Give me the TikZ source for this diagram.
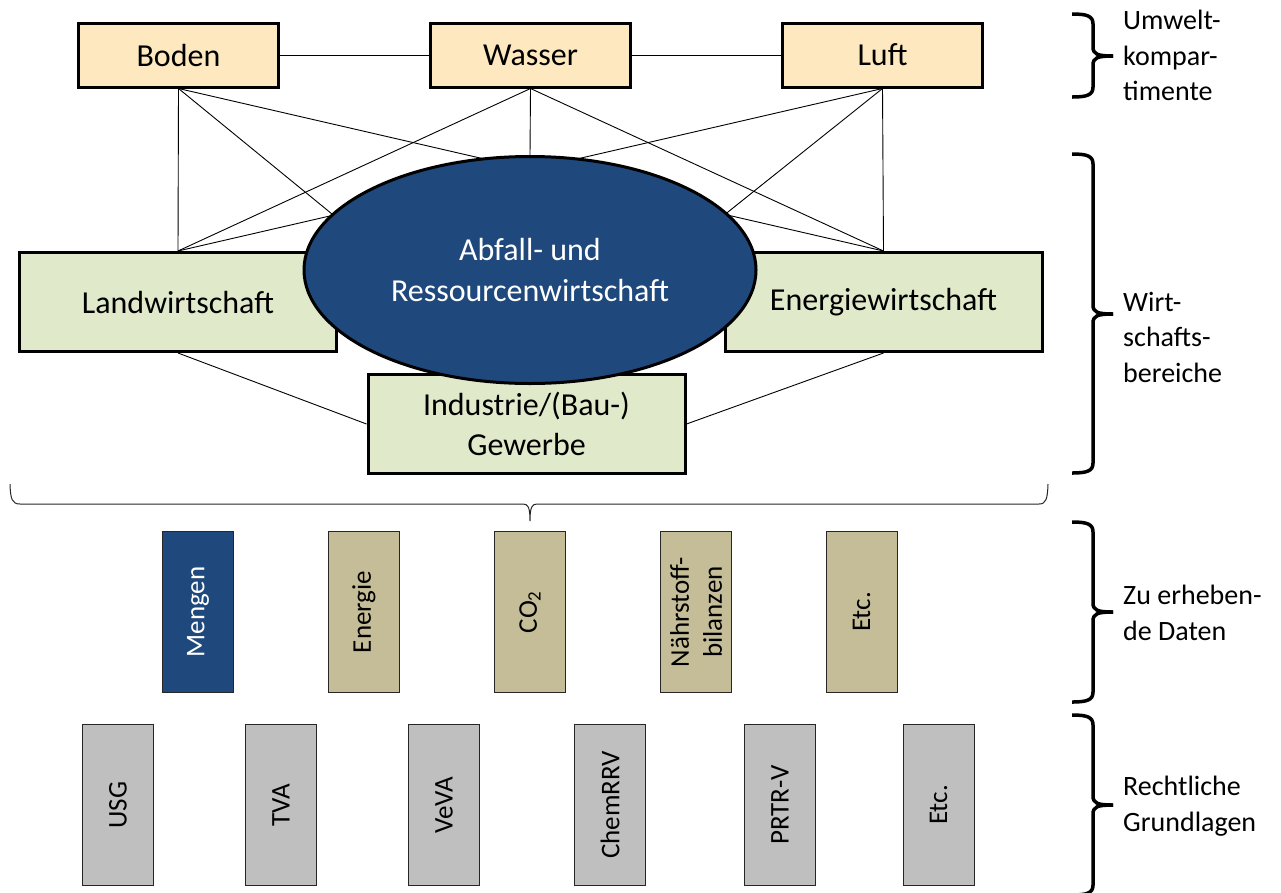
\documentclass[tikz,border=0pt]{standalone}
\usepackage{fontspec}
\setmainfont{Carlito}
\usetikzlibrary{shapes.geometric,backgrounds}
\definecolor{peach}{HTML}{FDE8BF}
\definecolor{lgreen}{HTML}{E0E9CA}
\definecolor{dblue}{HTML}{1F497D}
\definecolor{tan}{HTML}{C4BD97}
\definecolor{lgrey}{HTML}{BFBFBF}
\tikzset{
  mainfont/.style={font=\fontsize{32}{40}\selectfont},
  topbox/.style={draw, line width=3pt, fill=peach, minimum width=200pt, minimum height=64pt, inner sep=0pt, mainfont},
  greenbox/.style={draw, line width=3pt, fill=lgreen, minimum width=317pt, minimum height=99pt, inner sep=0pt, align=center, mainfont},
  bigellipse/.style={ellipse, draw, line width=3pt, fill=dblue, text=white, minimum width=452pt, minimum height=227pt, inner sep=0pt, align=center, mainfont},
  conn/.style={line width=0.9pt, draw=black},
  databar/.style={draw=black!85, line width=0.9pt, rotate=90, minimum width=161pt, minimum height=71pt, inner sep=0pt, align=center, font=\fontsize{27}{33}\selectfont},
  sidelabel/.style={anchor=west, align=left, inner sep=0pt, font=\fontsize{28}{35.5}\selectfont},
  bigbrace/.style={line width=3.5pt, draw=black},
  thinbrace/.style={line width=1pt, draw=black!85}
}
\newcommand{\sidebrace}[3]{%
  \draw[bigbrace] (1072,#1) .. controls (1087,#1) and (1093,{#1+2}) .. (1093,{#1+10})
    -- (1093,{#2-9}) .. controls (1093,{#2-2}) and (1097,#2) .. (1113,#2);
  \draw[bigbrace] (1113,#2) .. controls (1097,#2) and (1093,{#2+2}) .. (1093,{#2+9})
    -- (1093,{#3-10}) .. controls (1093,{#3-2}) and (1087,#3) .. (1072,#3);
}
\begin{document}
\begin{tikzpicture}[x=1pt,y=-1pt]
\useasboundingbox (0,0) rectangle (1281,892);
\clip (0,0) rectangle (1281,892);

% top boxes
\node[topbox] (boden) at (178.5,55) {Boden};
\node[topbox] (wasser) at (530.5,55) {Wasser};
\node[topbox] (luft) at (882.5,55) {Luft};

% sector boxes
\node[greenbox] (landw) at (178,302) {Landwirtschaft};
\node[greenbox] (energie) at (883.5,302) {Energiewirtschaft};
\node[greenbox] (industrie) at (526.5,424) {Industrie/(Bau-)\\Gewerbe};

% central ellipse
\node[bigellipse] (abfall) at (530,270) {Abfall- und\\Ressourcenwirtschaft};

% connectors
\begin{pgfonlayer}{background}
\draw[conn] (boden) -- (wasser);
\draw[conn] (wasser) -- (luft);
\draw[conn] (boden.south) -- (landw.north);
\draw[conn] (boden.south) -- (industrie.north);
\draw[conn] (boden.south) -- (energie.north);
\draw[conn] (wasser.south) -- (landw.north);
\draw[conn] (wasser.south) -- (abfall.north);
\draw[conn] (wasser.south) -- (energie.north);
\draw[conn] (luft.south) -- (landw.north);
\draw[conn] (luft.south) -- (industrie.north);
\draw[conn] (luft.south) -- (energie.north);
\draw[conn] (landw.south) -- (industrie.west);
\draw[conn] (energie.south) -- (industrie.east);
\end{pgfonlayer}

% horizontal brace
\coordinate (hbl) at (10,484);
\coordinate (hbtip) at (530,521);
\coordinate (hbr) at (1048,484);
\draw[thinbrace] (hbl) .. controls (10.5,499) and (12,504) .. (20,504) -- (523,504)
  .. controls (528,504) and (530,507) .. (hbtip)
  .. controls (530,507) and (532,504) .. (537,504) -- (1039,504)
  .. controls (1046,504) and (1047.5,499) .. (hbr);

% data bars
\node[databar, fill=dblue, text=white] (mengen) at (198,612) {Mengen};
\node[databar, fill=tan] (energiebar) at (364,612) {Energie};
\node[databar, fill=tan] (co2) at (530,612) {CO\textsubscript{2}};
\node[databar, fill=tan] (naehr) at (696,612) {Nährstoff-\\bilanzen};
\node[databar, fill=tan] (etca) at (861.5,612) {Etc.};

% legal bars
\node[databar, fill=lgrey] (usg) at (118,805) {USG};
\node[databar, fill=lgrey] (tva) at (281,805) {TVA};
\node[databar, fill=lgrey] (veva) at (444,805) {VeVA};
\node[databar, fill=lgrey] (chem) at (610,805) {ChemRRV};
\node[databar, fill=lgrey] (prtr) at (780,805) {PRTR-V};
\node[databar, fill=lgrey] (etcb) at (938.5,805) {Etc.};

% side braces
\sidebrace{14}{56}{97}
\sidebrace{154}{314}{473}
\sidebrace{522}{612}{702}
\sidebrace{715}{805}{895}

% side labels
\node[sidelabel] (lab1) at (1123,55.5) {Umwelt-\\kompar-\\timente};
\node[sidelabel] (lab2) at (1123,337) {Wirt-\\schafts-\\bereiche};
\node[sidelabel] (lab3) at (1123,613) {Zu erheben-\\de Daten};
\node[sidelabel] (lab4) at (1123,806) {Rechtliche\\Grundlagen};
\end{tikzpicture}
\end{document}
